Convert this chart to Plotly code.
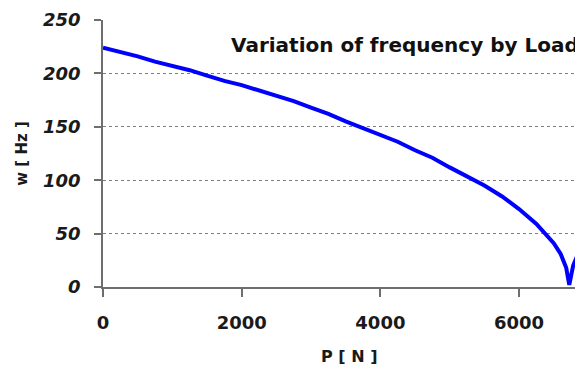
import plotly.graph_objects as go

load_n = [0, 250, 500, 750, 1000, 1250, 1500, 1750, 2000, 2250, 2500, 2750, 3000,
          3250, 3500, 3750, 4000, 4250, 4500, 4750, 5000, 5250, 5500, 5750, 6000,
          6250, 6400, 6500, 6600, 6680, 6724, 6780, 6850, 6922]
freq_hz = [224, 220, 216, 211, 207, 203, 198, 193, 189, 184, 179, 174, 168,
           162, 155, 149, 142, 136, 128, 121, 112, 104, 95, 85, 73,
           59, 49, 41, 31, 18, 2, 20, 31, 38]

y_ticks = [0, 50, 100, 150, 200, 250]
x_ticks = [0, 2000, 4000, 6000]

fig = go.Figure()
fig.add_trace(go.Scatter(x=load_n, y=freq_hz, mode="lines",
                         line=dict(color="#0000FF", width=4),
                         showlegend=False, hoverinfo="skip", cliponaxis=True))

# page has an 8px body margin: size the figure so the plot lands where the reference's does
fig.update_layout(
    width=575, height=362,
    margin=dict(l=95, r=0, t=12, b=83, autoexpand=False),
    paper_bgcolor="white", plot_bgcolor="white",
    font=dict(family="DejaVu Sans", color="black"),
    annotations=[
        dict(text="<b>Variation of frequency by Load</b>",
             xref="paper", yref="paper", x=0.995, y=0.906,
             xanchor="right", yanchor="middle", showarrow=False,
             font=dict(size=20, family="DejaVu Sans", color="#111111")),
        dict(text="<b>P [ N ]</b>",
             xref="paper", yref="paper", x=0.5125, y=-0.262,
             xanchor="center", yanchor="middle", showarrow=False,
             font=dict(size=16, family="DejaVu Sans", color="#1a1a1a")),
    ],
)

fig.update_xaxes(
    range=[0, 6922], tickvals=x_ticks, ticktext=[f"<b>{v}</b>" for v in x_ticks],
    showgrid=False, zeroline=False, automargin=False,
    showline=True, linecolor="#6e6e6e", linewidth=1.5,
    ticks="outside", ticklen=8, tickwidth=1.5, tickcolor="#6e6e6e",
    ticklabelstandoff=11,
    tickfont=dict(size=18, family="DejaVu Sans", color="#1a1a1a"),
)
fig.update_yaxes(
    range=[0, 250], tickvals=y_ticks, ticktext=[f"<b><i>{v}</i></b>" for v in y_ticks],
    showgrid=True, gridcolor="#7f7f7f", griddash="dot", gridwidth=1,
    zeroline=False, automargin=False,
    showline=True, linecolor="#6e6e6e", linewidth=1.5,
    ticks="outside", ticklen=7, tickwidth=1.5, tickcolor="#6e6e6e",
    ticklabelstandoff=10,
    tickfont=dict(size=18, family="DejaVu Sans", color="#1a1a1a"),
    title=dict(text="<b>w [ Hz ]</b>", standoff=12,
               font=dict(size=15, family="DejaVu Sans", color="#1a1a1a")),
)

fig.write_html("out.html")
